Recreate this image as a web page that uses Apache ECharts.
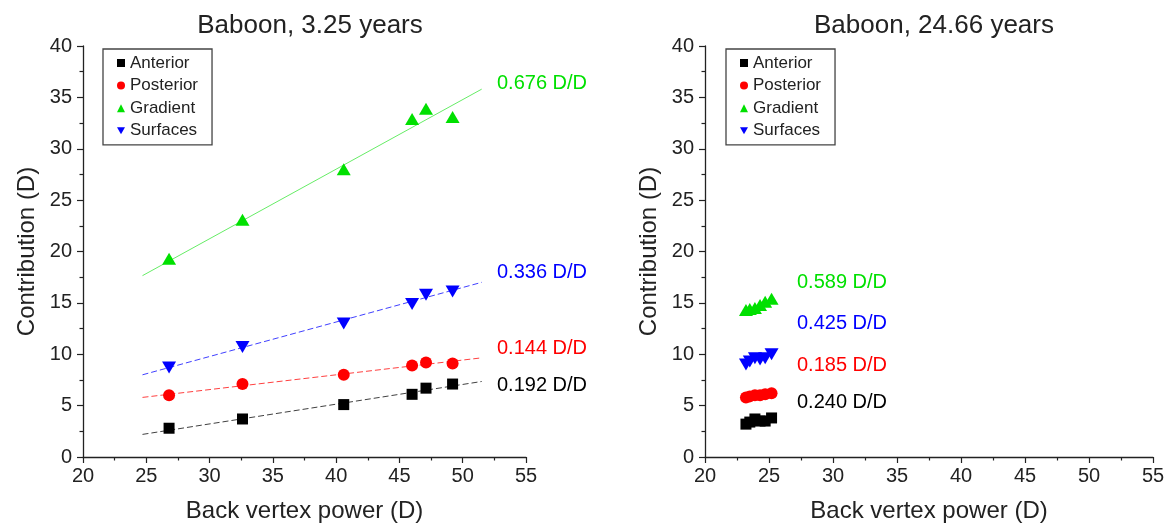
<!DOCTYPE html>
<html>
<head>
<meta charset="utf-8">
<script src="https://cdn.jsdelivr.net/npm/echarts@6/dist/echarts.min.js"></script>
<style>
html,body{margin:0;padding:0;background:#fff;}
#chart{width:1168px;height:525px;}
</style>
</head>
<body>
<div id="chart"></div>
<script>
// ---- Data ----
const seriesNames = ['Anterior', 'Posterior', 'Gradient', 'Surfaces'];
const titles = ['Baboon, 3.25 years', 'Baboon, 24.66 years'];
const xAxisName = 'Back vertex power (D)';
const yAxisName = 'Contribution (D)';

// Left panel (3.25 years)
const xLeft = [26.8, 32.6, 40.6, 46.0, 47.1, 49.2];
const anteriorLeft = [2.8, 3.7, 5.1, 6.1, 6.7, 7.1];
const posteriorLeft = [6.0, 7.1, 8.0, 8.9, 9.2, 9.1];
const gradientLeft = [19.3, 23.1, 28.0, 32.9, 33.9, 33.1];
const surfacesLeft = [8.7, 10.7, 13.0, 14.9, 15.8, 16.1];

// Left panel fit lines (end points)
const fitX = [24.7, 51.5];
const anteriorFit = [2.2, 7.35];
const posteriorFit = [5.8, 9.65];
const gradientFit = [17.65, 35.8];
const surfacesFit = [8.0, 17.0];

// Right panel (24.66 years)
const xRight = [23.2, 23.5, 23.9, 24.3, 24.7, 25.2];
const anteriorRight = [3.2, 3.4, 3.7, 3.5, 3.5, 3.8];
const posteriorRight = [5.8, 5.9, 6.0, 6.0, 6.1, 6.2];
const gradientRight = [14.3, 14.4, 14.5, 14.8, 15.1, 15.4];
const surfacesRight = [9.0, 9.3, 9.6, 9.5, 9.6, 10.0];

// Slope labels
const slopesLeft = ['0.192 D/D', '0.144 D/D', '0.676 D/D', '0.336 D/D'];
const slopesRight = ['0.240 D/D', '0.185 D/D', '0.589 D/D', '0.425 D/D'];

// ---- Styling ----
const FONT = 'Liberation Sans, Arial, Helvetica, sans-serif';
const colors = ['#000000', '#ff0000', '#00e000', '#0000ff'];
const downTri = 'path://M0,0L10,0L5,8.66Z';
const symbols = ['rect', 'circle', 'triangle', downTri];
const symbolSizes = [11, 12, [14, 12], [14, 12]];
const legendIcons = ['rect', 'circle', 'triangle', downTri];

function pairs(xs, ys) { return xs.map((x, i) => [x, ys[i]]); }

const leftY = [anteriorLeft, posteriorLeft, gradientLeft, surfacesLeft];
const rightY = [anteriorRight, posteriorRight, gradientRight, surfacesRight];
const fits = [anteriorFit, posteriorFit, gradientFit, surfacesFit];
const lineDash = [[6, 3], [6, 3], 'solid', [6, 3]];

const series = [];
fits.forEach((f, i) => {
  series.push({
    name: seriesNames[i] + ' fit', type: 'line', xAxisIndex: 0, yAxisIndex: 0,
    data: pairs(fitX, f), showSymbol: false, silent: true, z: 1,
    lineStyle: { color: colors[i], width: 1, type: lineDash[i], opacity: i === 2 ? 0.6 : 0.75 }
  });
});
leftY.forEach((ys, i) => {
  series.push({
    name: seriesNames[i], type: 'scatter', xAxisIndex: 0, yAxisIndex: 0,
    data: pairs(xLeft, ys), symbol: symbols[i], symbolSize: symbolSizes[i], z: 3,
    itemStyle: { color: colors[i], opacity: 1 }
  });
});
rightY.forEach((ys, i) => {
  series.push({
    name: seriesNames[i], type: 'scatter', xAxisIndex: 1, yAxisIndex: 1,
    data: pairs(xRight, ys), symbol: symbols[i], symbolSize: symbolSizes[i], z: 3,
    itemStyle: { color: colors[i], opacity: 1 }
  });
});

const axisColor = '#222';
function xAxis(gi) {
  return {
    type: 'value', gridIndex: gi, min: 20, max: 55, interval: 5,
    name: xAxisName, nameLocation: 'middle', nameGap: 42,
    nameTextStyle: { fontSize: 24, color: '#222', fontFamily: FONT },
    axisLine: { show: true, onZero: false, lineStyle: { color: axisColor, width: 1.3 } },
    axisTick: { show: true, inside: false, length: 6, lineStyle: { color: axisColor, width: 1.2 } },
    minorTick: { show: true, splitNumber: 2, length: 3.5, lineStyle: { color: axisColor, width: 1.2 } },
    axisLabel: { fontSize: 20, color: '#222', fontFamily: FONT, margin: 9 },
    splitLine: { show: false }
  };
}
function yAxis(gi) {
  return {
    type: 'value', gridIndex: gi, min: 0, max: 40, interval: 5,
    name: yAxisName, nameLocation: 'middle', nameGap: 44, nameRotate: 90,
    nameTextStyle: { fontSize: 24, color: '#222', fontFamily: FONT },
    axisLine: { show: true, onZero: false, lineStyle: { color: axisColor, width: 1.3 } },
    axisTick: { show: true, inside: false, length: 6, lineStyle: { color: axisColor, width: 1.2 } },
    minorTick: { show: true, splitNumber: 2, length: 3.5, lineStyle: { color: axisColor, width: 1.2 } },
    axisLabel: { fontSize: 20, color: '#222', fontFamily: FONT, margin: 11 },
    splitLine: { show: false }
  };
}
function legend(left) {
  return {
    left: left, top: 49, orient: 'vertical',
    data: seriesNames.map((n, i) => ({ name: n, icon: legendIcons[i] })),
    itemWidth: 8, itemHeight: 8, itemGap: 4.6,
    padding: [5, 14, 5, 14],
    borderColor: '#444', borderWidth: 1.3,
    textStyle: { fontSize: 17, color: '#222', fontFamily: FONT, lineHeight: 18 },
    selectedMode: false
  };
}

// slope label anchors (pixel positions of annotation text)
const labelLeftPos = [[497, 385], [497, 348], [497, 83], [497, 272]];
const labelRightPos = [[797, 402], [797, 365], [797, 282], [797, 323]];
const graphics = [];
slopesLeft.forEach((t, i) => graphics.push({
  type: 'text', x: labelLeftPos[i][0], y: labelLeftPos[i][1],
  style: { text: t, fill: colors[i], fontSize: 20, fontFamily: FONT, verticalAlign: 'middle', align: 'left' }
}));
slopesRight.forEach((t, i) => graphics.push({
  type: 'text', x: labelRightPos[i][0], y: labelRightPos[i][1],
  style: { text: t, fill: colors[i], fontSize: 20, fontFamily: FONT, verticalAlign: 'middle', align: 'left' }
}));

const chart = echarts.init(document.getElementById('chart'), null, { renderer: 'canvas' });
chart.setOption({
  backgroundColor: '#ffffff',
  animation: false,
  title: [
    { text: titles[0], left: 305, top: 8, textAlign: 'center',
      textStyle: { fontSize: 26, fontWeight: 'normal', color: '#222', fontFamily: FONT } },
    { text: titles[1], left: 929, top: 8, textAlign: 'center',
      textStyle: { fontSize: 26, fontWeight: 'normal', color: '#222', fontFamily: FONT } }
  ],
  legend: [legend(103), legend(726)],
  grid: [
    { left: 83, top: 46, width: 443, height: 411, containLabel: false, outerBoundsMode: 'none' },
    { left: 705, top: 46, width: 448, height: 411, containLabel: false, outerBoundsMode: 'none' }
  ],
  xAxis: [xAxis(0), xAxis(1)],
  yAxis: [yAxis(0), yAxis(1)],
  series: series,
  graphic: graphics
});
</script>
</body>
</html>
